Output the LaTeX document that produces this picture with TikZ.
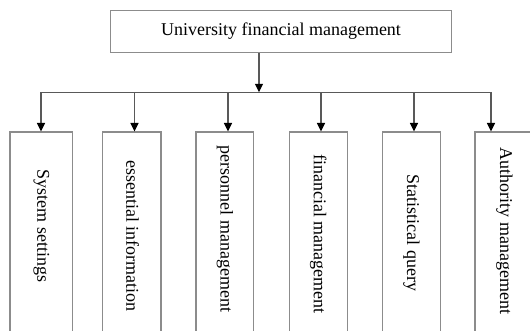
\documentclass[tikz,border=0pt]{standalone}
\usepackage{fontspec}
\setmainfont{Liberation Serif}
\usetikzlibrary{arrows.meta}
\begin{document}
\begin{tikzpicture}[x=1pt,y=-1pt,
  frame/.style={draw=black!45,line width=1.1pt,fill=white,inner sep=0pt},
  label/.style={font=\fontsize{18}{20}\selectfont,text=black,inner sep=0pt},
  vlabel/.style={label,rotate=-90},
  link/.style={draw=black!65,line width=1.3pt},
  arrowlink/.style={link,-{Triangle[length=8.5pt,width=8pt,color=black]}}]
\useasboundingbox (0,0) rectangle (530,331);
\clip (0,0) rectangle (530,331);
% root box
\node[frame,minimum width=341pt,minimum height=41.5pt] (root) at (281,31.6) {};
\node[label] (roottext) at (root.center) {University financial management};
% child boxes (they run past the lower edge)
\foreach \i/\xl/\xr in {1/10/72.7, 2/102.7/161, 3/196/253.5, 4/289.3/347.3, 5/382.3/440.3, 6/475/534}{
  \node[frame,anchor=north,minimum width={(\xr-\xl)*1pt},minimum height=230pt]
    (box\i) at ({(\xl+\xr)/2},131.5) {};
}
% rotated captions
\node[vlabel] (t1) at (41.3,226) {System settings};
\node[vlabel] (t2) at (132.5,236) {essential information};
\node[vlabel] (t3) at (224.8,229) {personnel management};
\node[vlabel] (t4) at (318.3,234) {financial management};
\node[vlabel] (t5) at (411.3,233) {Statistical query};
\node[vlabel] (t6) at (504.5,231) {Authority management};
% distribution bus
\coordinate (hub) at (259,92.3);
\coordinate (j1) at (41,92.3);
\coordinate (j2) at (134.5,92.3);
\coordinate (j3) at (228,92.3);
\coordinate (j4) at (321,92.3);
\coordinate (j5) at (414,92.3);
\coordinate (j6) at (491,92.3);
\draw[link] (j1) -- (j6);
\draw[arrowlink] (hub |- root.south) -- (hub);
\foreach \i in {1,...,6}{
  \draw[arrowlink] (j\i) -- (j\i |- box\i.north);
}
\end{tikzpicture}
\end{document}
